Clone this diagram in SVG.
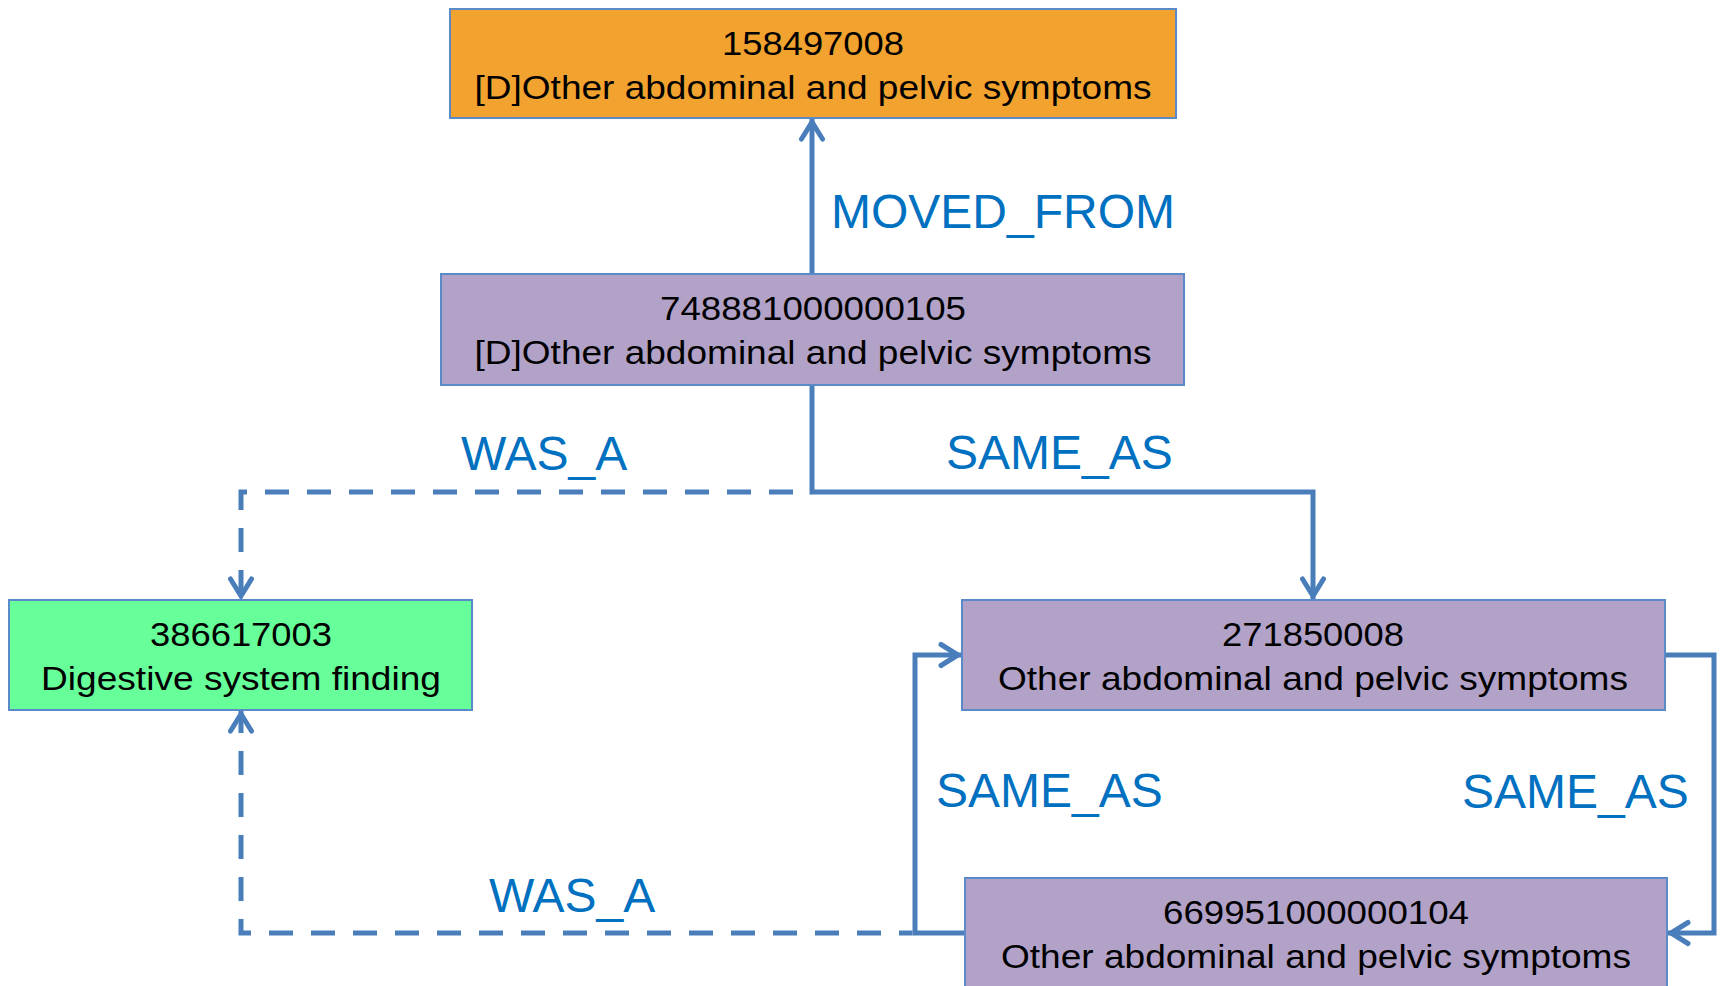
<svg xmlns="http://www.w3.org/2000/svg" width="1721" height="986" viewBox="0 0 1721 986">
  <style>
    .box { stroke: #5B8AC8; stroke-width: 2; }
    .orange { fill: #F2A22E; }
    .purple { fill: #B2A2C8; }
    .green { fill: #66FF99; }
    .ntext { font-family: "Liberation Sans", Arial, sans-serif; font-size: 34px; fill: #000000; text-anchor: middle; }
    .label { font-family: "Liberation Sans", Arial, sans-serif; font-size: 48px; fill: #0070C0; }
    .edge { fill: none; stroke: #4A7EBB; stroke-width: 5; stroke-linejoin: miter; }
    .dash { stroke-dasharray: 24 18; }
    .head { fill: none; stroke: #4A7EBB; stroke-width: 5; stroke-linecap: round; stroke-linejoin: miter; }
  </style>
  <defs>
    <marker id="arrow" markerUnits="userSpaceOnUse" viewBox="-30 -16 34 32" markerWidth="34" markerHeight="32" refX="0" refY="0" orient="auto" overflow="visible">
      <path class="head" d="M-21,-10.5 L-4,0 L-21,10.5"/>
    </marker>
  </defs>

  <rect width="1721" height="986" fill="#FFFFFF"/>

  <!-- connectors; dashed runs begin where they leave the shared solid runs,
       with the dash phase carried over from the node edge -->
  <g id="connectors">
    <path id="e-was-a-1" class="edge dash" d="M812,492 H241 V600" style="stroke-dashoffset:23" marker-end="url(#arrow)"/>
    <path id="e-was-a-2" class="edge dash" d="M912.5,933 H241 V710" style="stroke-dashoffset:10.5" marker-end="url(#arrow)"/>
    <path id="e-moved-from" class="edge" d="M812,274 V118" marker-end="url(#arrow)"/>
    <path id="e-same-as-1" class="edge" d="M812,385 V492 H1313 V600" marker-end="url(#arrow)"/>
    <path id="e-same-as-2" class="edge" d="M965,933 H915 V655 H962" marker-end="url(#arrow)"/>
    <path id="e-same-as-3" class="edge" d="M1665,655 H1714 V933 H1667" marker-end="url(#arrow)"/>
    <text class="label" x="831" y="228">MOVED_FROM</text>
    <text class="label" x="461" y="470">WAS_A</text>
    <text class="label" x="946" y="469">SAME_AS</text>
    <text class="label" x="936" y="807">SAME_AS</text>
    <text class="label" x="1462" y="808">SAME_AS</text>
    <text class="label" x="489" y="912">WAS_A</text>
  </g>

  <!-- nodes -->
  <g id="n158497008">
    <rect class="box orange" x="450" y="9" width="726" height="109"/>
    <text class="ntext" x="813" y="54.5" textLength="182" lengthAdjust="spacingAndGlyphs">158497008</text>
    <text class="ntext" x="813" y="99" textLength="677" lengthAdjust="spacingAndGlyphs">[D]Other abdominal and pelvic symptoms</text>
  </g>
  <g id="n748881000000105">
    <rect class="box purple" x="441" y="274" width="743" height="111"/>
    <text class="ntext" x="813" y="319.5" textLength="306" lengthAdjust="spacingAndGlyphs">748881000000105</text>
    <text class="ntext" x="813" y="364" textLength="677" lengthAdjust="spacingAndGlyphs">[D]Other abdominal and pelvic symptoms</text>
  </g>
  <g id="n386617003">
    <rect class="box green" x="9" y="600" width="463" height="110"/>
    <text class="ntext" x="241" y="645.5" textLength="182" lengthAdjust="spacingAndGlyphs">386617003</text>
    <text class="ntext" x="241" y="690" textLength="400" lengthAdjust="spacingAndGlyphs">Digestive system finding</text>
  </g>
  <g id="n271850008">
    <rect class="box purple" x="962" y="600" width="703" height="110"/>
    <text class="ntext" x="1313" y="645.5" textLength="182" lengthAdjust="spacingAndGlyphs">271850008</text>
    <text class="ntext" x="1313" y="690" textLength="630" lengthAdjust="spacingAndGlyphs">Other abdominal and pelvic symptoms</text>
  </g>
  <g id="n669951000000104">
    <rect class="box purple" x="965" y="878" width="702" height="112"/>
    <text class="ntext" x="1316" y="923.5" textLength="306" lengthAdjust="spacingAndGlyphs">669951000000104</text>
    <text class="ntext" x="1316" y="968" textLength="630" lengthAdjust="spacingAndGlyphs">Other abdominal and pelvic symptoms</text>
  </g>
</svg>
